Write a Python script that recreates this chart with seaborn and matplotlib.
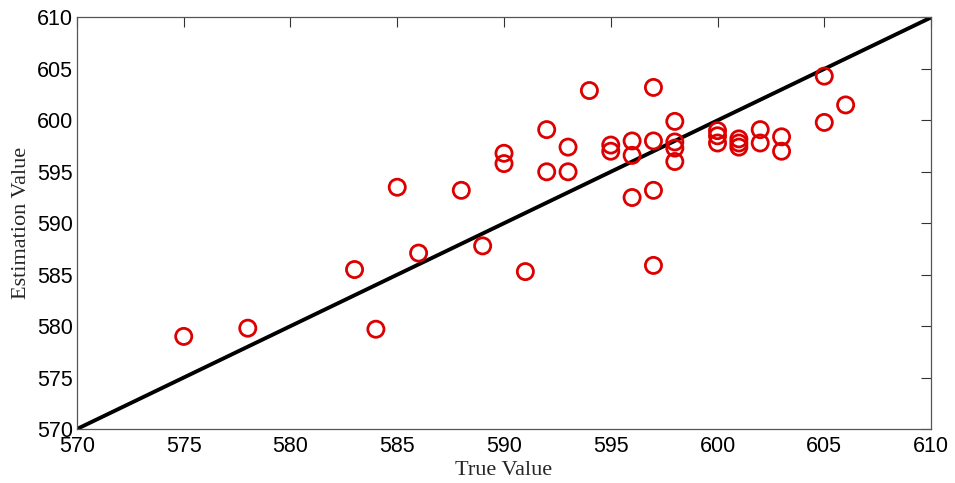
import matplotlib
matplotlib.use("Agg")
import matplotlib.pyplot as plt
import seaborn as sns
import pandas as pd

true_vals = [575, 578, 583, 584, 585, 586, 588, 589, 590, 590, 591,
             592, 592, 593, 593, 594, 595, 595, 596, 596, 596,
             597, 597, 597, 597, 598, 598, 598, 598,
             600, 600, 600, 601, 601, 601, 602, 602, 603, 603,
             605, 605, 606]
est_vals = [579.0, 579.8, 585.5, 579.7, 593.5, 587.1, 593.2, 587.8, 596.8, 595.8, 585.3,
            599.1, 595.0, 597.4, 595.0, 602.9, 597.6, 597.0, 598.0, 596.6, 592.5,
            603.2, 598.0, 593.2, 585.9, 599.9, 597.9, 597.3, 596.0,
            599.0, 598.5, 597.8, 598.2, 597.8, 597.4, 599.1, 597.8, 598.4, 597.0,
            604.3, 599.8, 601.5]
line_vals = [570, 610]
ticks = [570, 575, 580, 585, 590, 595, 600, 605, 610]

sns.set_style("white")
fig = plt.figure(figsize=(9.55, 4.83), dpi=100)
ax = fig.add_axes([0.0806, 0.1118, 0.8943, 0.852])

df = pd.DataFrame({"true": true_vals, "est": est_vals})
ldf = pd.DataFrame({"x": line_vals, "y": line_vals})

sns.lineplot(data=ldf, x="x", y="y", color="black", linewidth=2.8, ax=ax, zorder=2)
sns.scatterplot(data=df, x="true", y="est", marker="o", s=135,
                facecolors="none", edgecolor="#dd0000", linewidth=2.0, ax=ax, zorder=3)

ax.set_xlim(570, 610)
ax.set_ylim(570, 610)
ax.set_xticks(ticks)
ax.set_yticks(ticks)
ax.tick_params(direction="in", length=7, width=0.8, colors="#333333",
               top=True, right=True, labelsize=15.5, labelcolor="black")
ax.tick_params(axis="x", pad=5)
ax.tick_params(axis="y", pad=3)
for lab in ax.get_xticklabels() + ax.get_yticklabels():
    lab.set_fontfamily("Liberation Sans")
for sp in ax.spines.values():
    sp.set_color("#555555")
    sp.set_linewidth(0.9)

ax.set_xlabel("True Value", fontfamily="Liberation Serif", fontsize=16, labelpad=3)
ax.set_ylabel("Estimation Value", fontfamily="Liberation Serif", fontsize=16, labelpad=4)

fig.savefig("out.png", dpi=100)
